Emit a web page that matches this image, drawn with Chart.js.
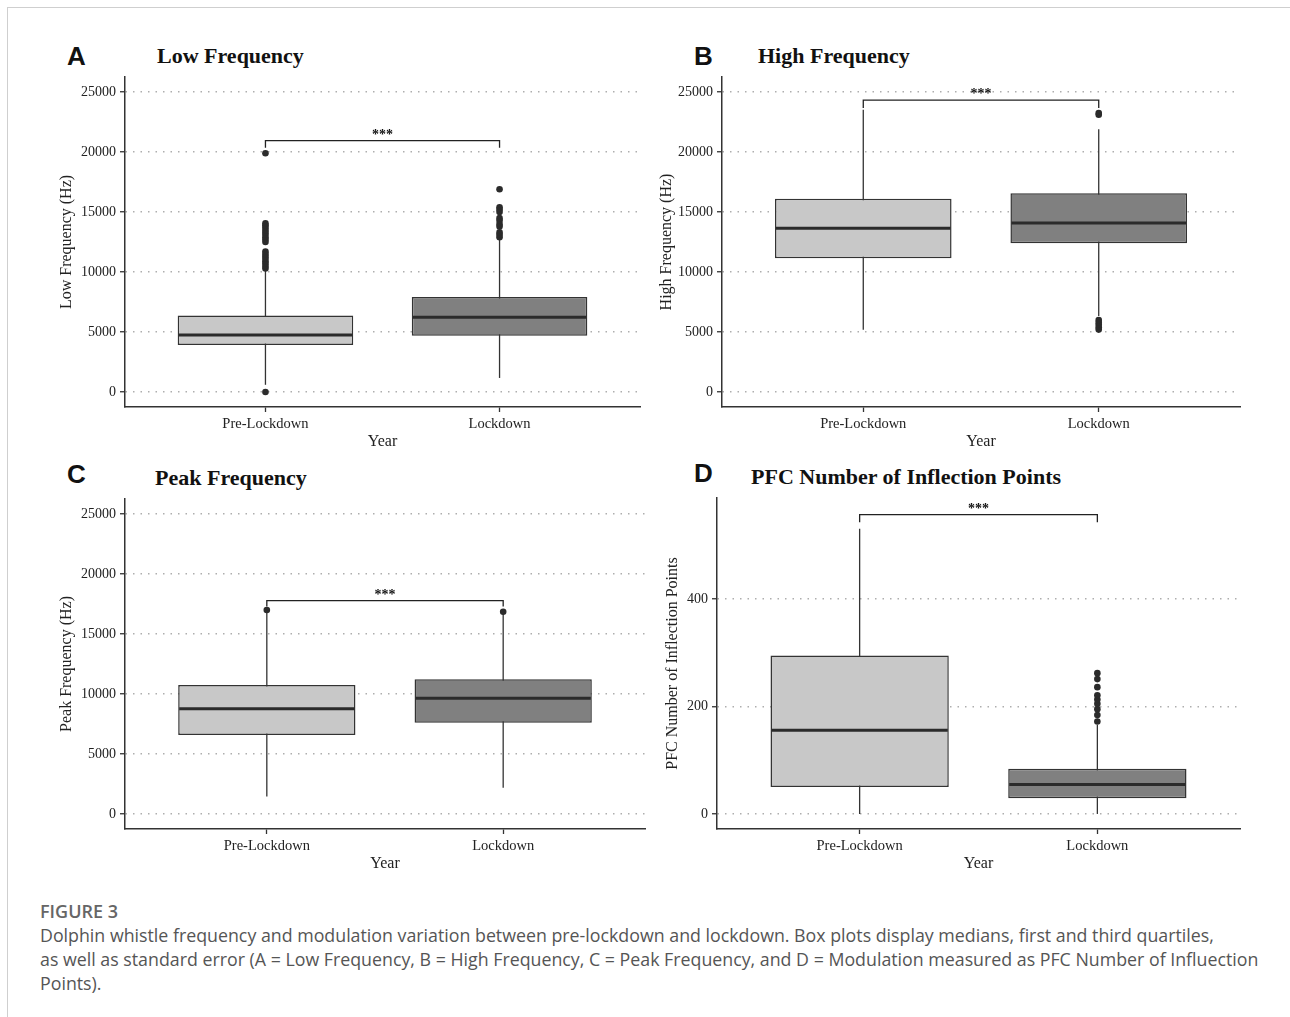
<!DOCTYPE html>
<html>
<head>
<meta charset="utf-8">
<script src="https://cdn.jsdelivr.net/npm/chart.js@4.4.1/dist/chart.umd.min.js"></script>
<style>
  body { margin: 0; background: #fff; width: 1290px; height: 1017px; position: relative; overflow: hidden; }
  .frame { position: absolute; left: 7px; top: 7px; width: 1300px; height: 1030px; border-left: 1px solid #cfcfcf; border-top: 1px solid #cfcfcf; }
  canvas { position: absolute; }
  .letter { position: absolute; font-family: 'Liberation Sans', Arial, sans-serif; font-weight: bold; font-size: 26px; line-height: 26px; color: #111; }
  .ptitle { position: absolute; font-family: 'Liberation Serif', 'Times New Roman', serif; font-weight: bold; font-size: 22px; line-height: 22px; color: #111; white-space: nowrap; }
  .caphead { position: absolute; left: 40px; top: 899px; font-family: 'Open Sans', sans-serif; font-weight: 600; font-size: 18px; line-height: 24px; color: #666; }
  .caption { position: absolute; left: 40px; top: 923px; font-family: 'Open Sans', sans-serif; font-size: 17.8px; line-height: 24px; color: #555; white-space: nowrap; }
</style>
</head>
<body>
<div class="frame"></div>

<div class="letter" style="left:67px; top:43px;">A</div>
<div class="ptitle" style="left:157px; top:45px;">Low Frequency</div>
<div class="letter" style="left:694px; top:43px;">B</div>
<div class="ptitle" style="left:758px; top:45px;">High Frequency</div>
<div class="letter" style="left:67px; top:461px;">C</div>
<div class="ptitle" style="left:155px; top:467px;">Peak Frequency</div>
<div class="letter" style="left:694px; top:460px;">D</div>
<div class="ptitle" style="left:751px; top:466px;">PFC Number of Inflection Points</div>

<canvas id="chart-low" width="615" height="425" style="left:40px; top:30px;"></canvas>
<canvas id="chart-high" width="600" height="425" style="left:650px; top:30px;"></canvas>
<canvas id="chart-peak" width="615" height="425" style="left:40px; top:452px;"></canvas>
<canvas id="chart-pfc" width="600" height="425" style="left:650px; top:452px;"></canvas>

<div class="caphead">FIGURE 3</div>
<div class="caption">Dolphin whistle frequency and modulation variation between pre-lockdown and lockdown. Box plots display medians, first and third quartiles,<br>as well as standard error (A = Low Frequency, B = High Frequency, C = Peak Frequency, and D = Modulation measured as PFC Number of Influection<br>Points).</div>

<script>
var categories = ['Pre-Lockdown', 'Lockdown'];
var freqTicks = [0, 5000, 10000, 15000, 20000, 25000];
var pfcTicks = [0, 200, 400];

// A - Low Frequency
var lowQ1 = [3920, 4690];
var lowQ3 = [6370, 7920];
var lowMedian = [4760, 6230];
var lowWhiskerLo = [600, 1170];
var lowWhiskerHi = [10200, 12800];
var lowOutliersPre = [0, 10300, 10500, 10700, 10900, 11100, 11300, 11500, 11700,
  12500, 12700, 12900, 13100, 13300, 13500, 13700, 13900, 14050, 19900];
var lowOutliersLock = [12900, 13100, 13300, 13800, 14000, 14300, 14500, 15000, 15200, 15400, 16900];
var lowBracket = [20950, 20350];

// B - High Frequency
var highQ1 = [11140, 12390];
var highQ3 = [16110, 16560];
var highMedian = [13640, 14080];
var highWhiskerLo = [5190, 6330];
var highWhiskerHi = [23530, 21900];
var highOutliersPre = [];
var highOutliersLock = [5200, 5400, 5600, 5800, 6000, 23100, 23250];
var highBracket = [24330, 23670];

// C - Peak Frequency
var peakQ1 = [6580, 7610];
var peakQ3 = [10750, 11220];
var peakMedian = [8780, 9640];
var peakWhiskerLo = [1450, 2190];
var peakWhiskerHi = [16900, 16800];
var peakOutliersPre = [17000];
var peakOutliersLock = [16860];
var peakBracket = [17780, 17300];

// D - PFC Number of Inflection Points
var pfcQ1 = [50, 29];
var pfcQ3 = [295, 84];
var pfcMedian = [156, 55];
var pfcWhiskerLo = [0, 0];
var pfcWhiskerHi = [531, 166];
var pfcOutliersPre = [];
var pfcOutliersLock = [172, 184, 195, 205, 213, 221, 236, 251, 262];
var pfcBracket = [557, 543];

var serif = "'Liberation Serif', 'Times New Roman', serif";

//Whiskers under the boxes, medians and the significance bracket over them
var boxExtras = {
  id: 'boxExtras',
  beforeDatasetsDraw: function(chart, args, opts) {
    var ctx = chart.ctx;
    var x = chart.scales.x;
    var y = chart.scales.y;
    ctx.save();
    ctx.strokeStyle = '#333';
    ctx.lineWidth = 1.3;
    for (var i = 0; i < opts.whiskerLo.length; i++) {
      var px = x.getPixelForValue(i + 1);
      ctx.beginPath();
      ctx.moveTo(px, y.getPixelForValue(opts.whiskerLo[i]));
      ctx.lineTo(px, y.getPixelForValue(opts.whiskerHi[i]));
      ctx.stroke();
    }
    ctx.restore();
  },
  afterDatasetsDraw: function(chart, args, opts) {
    var ctx = chart.ctx;
    var x = chart.scales.x;
    var y = chart.scales.y;
    var bars = chart.getDatasetMeta(0).data;
    ctx.save();
    ctx.strokeStyle = '#2b2b2b';
    ctx.lineWidth = 3;
    bars.forEach(function(bar, i) {
      var py = y.getPixelForValue(opts.median[i]);
      ctx.beginPath();
      ctx.moveTo(bar.x - bar.width / 2 + 1, py);
      ctx.lineTo(bar.x + bar.width / 2 - 1, py);
      ctx.stroke();
    });

    var x1 = x.getPixelForValue(1);
    var x2 = x.getPixelForValue(2);
    var top = y.getPixelForValue(opts.bracket[0]);
    var foot = y.getPixelForValue(opts.bracket[1]);
    ctx.strokeStyle = '#222';
    ctx.lineWidth = 1.3;
    ctx.beginPath();
    ctx.moveTo(x1, foot);
    ctx.lineTo(x1, top);
    ctx.lineTo(x2, top);
    ctx.lineTo(x2, foot);
    ctx.stroke();

    ctx.fillStyle = '#111';
    ctx.font = 'bold 14px ' + serif;
    ctx.textAlign = 'center';
    ctx.textBaseline = 'alphabetic';
    ctx.fillText('***', (x1 + x2) / 2, top - 2);
    ctx.restore();
  }
};

//Build one box plot panel
var createBoxChart = function(canvasId, panel) {
  var ctx = document.getElementById(canvasId).getContext('2d');
  var boxes = panel.q1.map(function(v, i) {
    return { x: i + 1, y: [v, panel.q3[i]] };
  });
  var outliers = panel.outPre.map(function(v) { return { x: 1, y: v }; })
    .concat(panel.outLock.map(function(v) { return { x: 2, y: v }; }));

  return new Chart(ctx, {
    type: 'bar',
    data: {
      datasets: [{
        data: boxes,
        backgroundColor: ['#c8c8c8', '#808080'],
        borderColor: '#333',
        borderWidth: 1.5,
        borderSkipped: false,
        categoryPercentage: 1,
        barPercentage: 0.75
      }, {
        type: 'scatter',
        data: outliers,
        pointRadius: 3.3,
        pointBackgroundColor: '#2b2b2b',
        pointBorderWidth: 0
      }]
    },
    options: {
      responsive: false,
      animation: false,
      devicePixelRatio: 1,
      layout: { padding: { left: 0, top: panel.padTop, right: panel.padRight, bottom: 0 } },
      plugins: {
        legend: { display: false },
        tooltip: { enabled: false },
        boxExtras: {
          whiskerLo: panel.whiskerLo,
          whiskerHi: panel.whiskerHi,
          median: panel.median,
          bracket: panel.bracket
        }
      },
      scales: {
        x: {
          type: 'linear',
          min: 0.4,
          max: 2.6,
          offset: false,
          afterBuildTicks: function(scale) {
            scale.ticks = categories.map(function(c, i) { return { value: i + 1 }; });
          },
          afterFit: function(scale) { scale.height = 48; },
          ticks: {
            color: '#222',
            padding: 3,
            font: { family: serif, size: 14.5 },
            callback: function(v) { return categories[v - 1]; }
          },
          grid: {
            offset: false,
            drawOnChartArea: false,
            drawTicks: true,
            tickLength: 5,
            tickColor: '#333',
            tickWidth: 1.3
          },
          border: { display: true, color: '#333', width: 1.5 },
          title: {
            display: true,
            text: 'Year',
            color: '#222',
            font: { family: serif, size: 16 },
            padding: { top: 0, bottom: 4 }
          }
        },
        y: {
          type: 'linear',
          min: panel.min,
          max: panel.max,
          afterBuildTicks: function(scale) {
            scale.ticks = panel.ticks.map(function(v) { return { value: v }; });
          },
          afterFit: function(scale) { scale.width = panel.axisWidth; },
          ticks: {
            color: '#222',
            padding: 4,
            font: { family: serif, size: 14 },
            callback: function(v) { return String(v); }
          },
          grid: {
            color: '#aeaeae',
            lineWidth: 1.5,
            drawTicks: true,
            tickLength: 5,
            tickColor: '#333',
            tickWidth: 1.3,
            tickBorderDash: []
          },
          border: { display: true, color: '#333', width: 1.5, dash: [1.5, 6] },
          title: {
            display: true,
            text: panel.yTitle,
            color: '#222',
            font: { family: serif, size: 16 },
            padding: { top: panel.titlePad, bottom: 0 }
          }
        }
      }
    },
    plugins: [boxExtras]
  });
}

createBoxChart('chart-low', {
  q1: lowQ1, q3: lowQ3, median: lowMedian, whiskerLo: lowWhiskerLo, whiskerHi: lowWhiskerHi,
  outPre: lowOutliersPre, outLock: lowOutliersLock, bracket: lowBracket,
  ticks: freqTicks, min: -1250, max: 26250, yTitle: 'Low Frequency (Hz)',
  axisWidth: 85, padTop: 47, padRight: 15, titlePad: 17
});
createBoxChart('chart-high', {
  q1: highQ1, q3: highQ3, median: highMedian, whiskerLo: highWhiskerLo, whiskerHi: highWhiskerHi,
  outPre: highOutliersPre, outLock: highOutliersLock, bracket: highBracket,
  ticks: freqTicks, min: -1250, max: 26250, yTitle: 'High Frequency (Hz)',
  axisWidth: 72, padTop: 47, padRight: 10, titlePad: 7
});
createBoxChart('chart-peak', {
  q1: peakQ1, q3: peakQ3, median: peakMedian, whiskerLo: peakWhiskerLo, whiskerHi: peakWhiskerHi,
  outPre: peakOutliersPre, outLock: peakOutliersLock, bracket: peakBracket,
  ticks: freqTicks, min: -1250, max: 26250, yTitle: 'Peak Frequency (Hz)',
  axisWidth: 85, padTop: 47, padRight: 10, titlePad: 17
});
createBoxChart('chart-pfc', {
  q1: pfcQ1, q3: pfcQ3, median: pfcMedian, whiskerLo: pfcWhiskerLo, whiskerHi: pfcWhiskerHi,
  outPre: pfcOutliersPre, outLock: pfcOutliersLock, bracket: pfcBracket,
  ticks: pfcTicks, min: -28, max: 588, yTitle: 'PFC Number of Inflection Points',
  axisWidth: 67, padTop: 46, padRight: 10, titlePad: 13
});
</script>
</body>
</html>
